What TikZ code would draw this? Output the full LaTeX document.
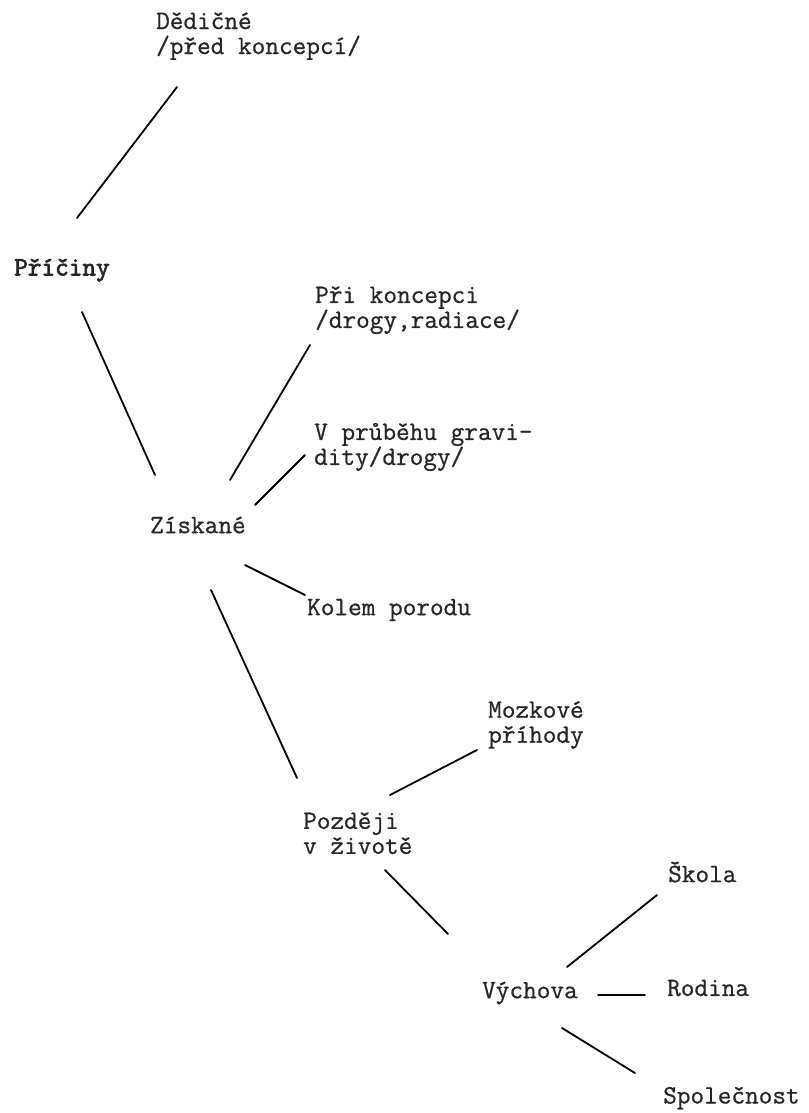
\documentclass[tikz,border=0pt]{standalone}
\usepackage{fontspec}
\newfontfamily\typew{Latin Modern Mono}[FakeBold=0.7]
\newfontfamily\typewb{Latin Modern Mono}[FakeBold=2.5]
\begin{document}
\begin{tikzpicture}[x=1pt,y=-1pt,
  lbl/.style={anchor=west,inner sep=0pt,font=\fontsize{26.5}{25}\selectfont\typew,align=left,text=black!85},
  conn/.style={line width=1.8pt,line cap=round}]
\useasboundingbox (0,0) rectangle (808,1113);
\fill[white] (0,0) rectangle (808,1113);
\node[lbl] (ded) at (156,36) {Dědičné\\/před koncepcí/};
\node[lbl,font=\fontsize{26.5}{25}\selectfont\typewb] (pric) at (14,270) {Příčiny};
\node[lbl] (prik) at (315,310) {Při koncepci\\/drogy,radiace/};
\node[lbl] (vpr) at (314,447) {V průběhu gravi-\\dity/drogy/};
\node[lbl] (zisk) at (150,525) {Získané};
\node[lbl] (kol) at (307,610) {Kolem porodu};
\node[lbl] (mozk) at (488,725) {Mozkové\\příhody};
\node[lbl] (pozd) at (303,833) {Později\\v životě};
\node[lbl] (skol) at (668,872) {Škola};
\node[lbl] (vych) at (482,993) {Výchova};
\node[lbl] (rod) at (667,988) {Rodina};
\node[lbl] (spol) at (663,1098) {Společnost};
% connector end points
\coordinate (a1) at (77,218); \coordinate (a2) at (177,87);
\coordinate (b1) at (82,312); \coordinate (b2) at (155,475);
\coordinate (c1) at (230,480); \coordinate (c2) at (310,345);
\coordinate (d1) at (255,505); \coordinate (d2) at (305,455);
\coordinate (e1) at (245,565); \coordinate (e2) at (305,595);
\coordinate (f1) at (211,590); \coordinate (f2) at (297,778);
\coordinate (g1) at (390,795); \coordinate (g2) at (477,750);
\coordinate (h1) at (385,870); \coordinate (h2) at (448,934);
\coordinate (i1) at (567,967); \coordinate (i2) at (657,895);
\coordinate (j1) at (598,995); \coordinate (j2) at (645,995);
\coordinate (k1) at (562,1028); \coordinate (k2) at (635,1073);
\draw[conn] (a1) -- (a2);
\draw[conn] (b1) -- (b2);
\draw[conn] (c1) -- (c2);
\draw[conn] (d1) -- (d2);
\draw[conn] (e1) -- (e2);
\draw[conn] (f1) -- (f2);
\draw[conn] (g1) -- (g2);
\draw[conn] (h1) -- (h2);
\draw[conn] (i1) -- (i2);
\draw[conn] (j1) -- (j2);
\draw[conn] (k1) -- (k2);
\end{tikzpicture}
\end{document}
